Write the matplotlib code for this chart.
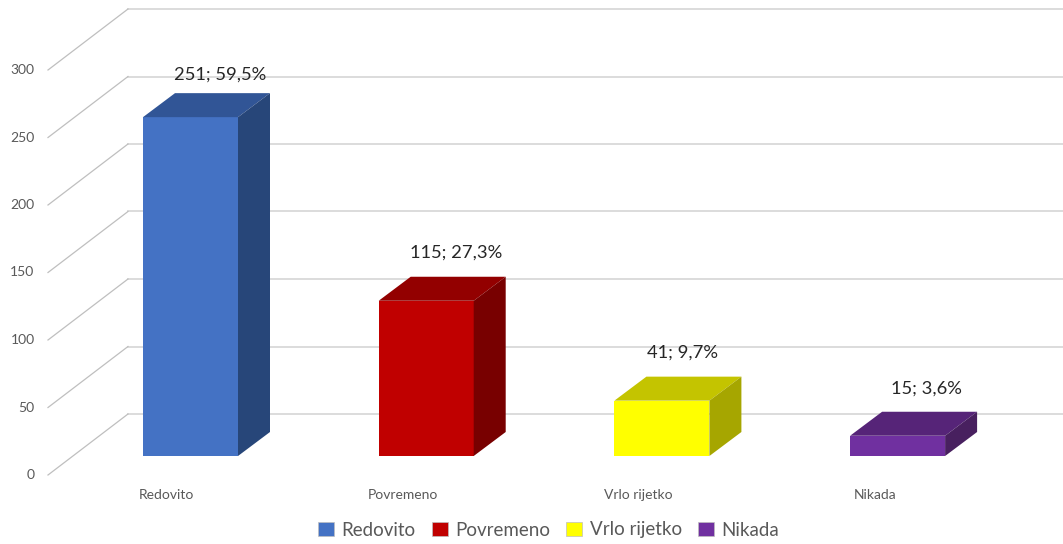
import matplotlib.pyplot as plt
from matplotlib.patches import Patch, Polygon

# Chart values
categories = ['Redovito', 'Povremeno', 'Vrlo rijetko', 'Nikada']
values = [251, 115, 41, 15]
percents = ['59,5%', '27,3%', '9,7%', '3,6%']
y_ticks = [0, 50, 100, 150, 200, 250, 300]

# Colours for front, top and side of each bar
front_colors = ['#4472C4', '#C00000', '#FFFF00', '#7030A0']
top_colors = ['#315596', '#930000', '#C4C400', '#562478']
side_colors = ['#274679', '#780000', '#A6A600', '#48205F']

# Pixel scale of the picture, one category is 235.7 px and one value unit 1.35 px
px_x = 235.7
px_y = 1.35
bar_width = 95 / px_x

# Depth of the bars and of the chart floor
bar_dx = 32 / px_x
bar_dy = 24 / px_y
floor_left = -142.5 / px_x
wall_left = -62.5 / px_x
floor_y = -19 / px_y
wall_y = 42 / px_y

fig = plt.figure(figsize=(10.63, 5.44), dpi=100)
ax = fig.add_axes([0, 0, 1, 1])
ax.set_xlim(-190.5 / px_x, (1063 - 190.5) / px_x)
ax.set_ylim(-88 / px_y, 456 / px_y)
ax.axis('off')

plt.rcParams['font.family'] = ['Lato', 'DejaVu Sans']

# Back wall lines and the diagonal lines on the left wall
for tick in y_ticks:
    ax.plot([wall_left, 3.71], [wall_y + tick, wall_y + tick], color='#D9D9D9', lw=1.3, zorder=1)
    ax.plot([floor_left, wall_left], [floor_y + tick, wall_y + tick], color='#BFBFBF', lw=0.9, zorder=1)
    ax.text(-156 / px_x, floor_y + tick, str(tick), ha='right', va='center', fontsize=10, color='#595959')

# Bars with the top and side faces
for i, value in enumerate(values):
    left = i - bar_width / 2
    right = i + bar_width / 2
    ax.bar(i, value, width=bar_width, color=front_colors[i], zorder=3)
    top = [(left, value), (right, value), (right + bar_dx, value + bar_dy), (left + bar_dx, value + bar_dy)]
    side = [(right, 0), (right + bar_dx, bar_dy), (right + bar_dx, value + bar_dy), (right, value)]
    ax.add_patch(Polygon(top, closed=True, facecolor=top_colors[i], edgecolor='none', zorder=3))
    ax.add_patch(Polygon(side, closed=True, facecolor=side_colors[i], edgecolor='none', zorder=3))

# Data labels
label_dx = [30, 30, 21, 29]
label_dy = [43, 48, 48, 47]
for i, value in enumerate(values):
    ax.text(i + label_dx[i] / px_x, value + label_dy[i] / px_y, f'{value}; {percents[i]}',
            ha='center', va='center', fontsize=13.2, color='#262626', zorder=4)

# Category labels under the bars
label_shift = [-24, -23, -24, -23]
for i, name in enumerate(categories):
    ax.text(i + label_shift[i] / px_x, -39 / px_y, name, ha='center', va='center',
            fontsize=10, color='#595959')

handles = [Patch(facecolor=c, edgecolor='#BFBFBF', linewidth=0.5) for c in front_colors]
ax.legend(handles, categories, loc='center', bbox_to_anchor=(548.5 / 1063, 14 / 544), ncol=4, frameon=False,
          fontsize=13.5, labelcolor='#595959', handlelength=0.85, handleheight=0.85,
          handletextpad=0.4, columnspacing=0.85, borderpad=0)

fig.savefig('out.png', dpi=100)
